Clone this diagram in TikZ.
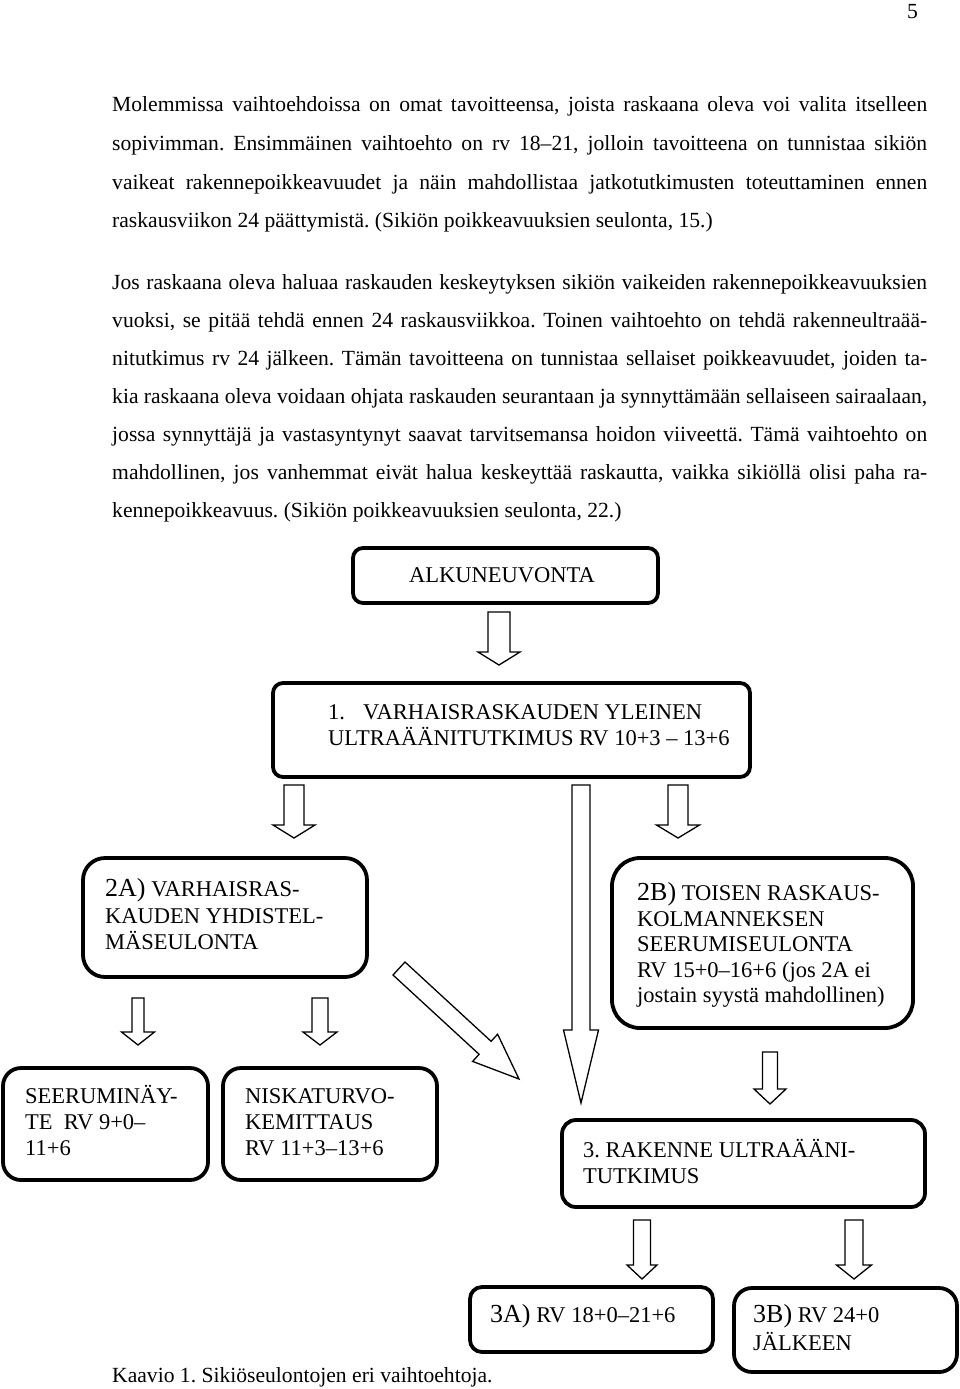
\documentclass[tikz,border=0pt]{standalone}
\usepackage{fontspec}
\setmainfont{Liberation Serif}
\frenchspacing
\newcommand\bodyfont{\fontsize{21.6}{26}\selectfont}
\newcommand\boxfont{\fontsize{22.5}{26}\selectfont}
\newcommand\bigfont{\fontsize{26}{30}\selectfont}
\newcommand\blkdown[7]{\draw[blk] (#2-#5,#3) coordinate (#1) -- (#2+#5,#3) -- (#2+#5,#4) -- (#2+#6,#4) -- (#2,#7) -- (#2-#6,#4) -- (#2-#5,#4) -- cycle;}
\tikzset{
  box/.style={draw, line width=3.8pt, rounded corners=#1, inner sep=0pt},
  blk/.style={draw, line width=1.3pt, fill=white, line join=miter},
  txt/.style={inner sep=0pt, anchor=base west, font=\boxfont},
  body/.style={inner sep=0pt, anchor=base west, font=\bodyfont},
}
\newcommand\jl[1]{\makebox[815pt][s]{#1}}
\begin{document}
\begin{tikzpicture}[x=1pt,y=-1pt]
\useasboundingbox[fill=white] (0,0) rectangle (960,1389);
% page number
\node[body] (pg) at (907,19) {5};
% paragraph 1
\node[body] (p1a) at (112,111) {\jl{Molemmissa vaihtoehdoissa on omat tavoitteensa, joista raskaana oleva voi valita itselleen}};
\node[body] (p1b) at (112,150) {\jl{sopivimman. Ensimmäinen vaihtoehto on rv 18–21, jolloin tavoitteena on tunnistaa sikiön}};
\node[body] (p1c) at (112,189) {\jl{vaikeat rakennepoikkeavuudet ja näin mahdollistaa jatkotutkimusten toteuttaminen ennen}};
\node[body] (p1d) at (112,227) {raskausviikon 24 päättymistä. (Sikiön poikkeavuuksien seulonta, 15.)};
% paragraph 2
\node[body] (p2a) at (112,289) {\jl{Jos raskaana oleva haluaa raskauden keskeytyksen sikiön vaikeiden rakennepoikkeavuuksien}};
\node[body] (p2b) at (112,327) {\jl{vuoksi, se pitää tehdä ennen 24 raskausviikkoa. Toinen vaihtoehto on tehdä rakenneultraää-}};
\node[body] (p2c) at (112,365) {\jl{nitutkimus rv 24 jälkeen. Tämän tavoitteena on tunnistaa sellaiset poikkeavuudet, joiden ta-}};
\node[body] (p2d) at (112,403) {\jl{kia raskaana oleva voidaan ohjata raskauden seurantaan ja synnyttämään sellaiseen sairaalaan,}};
\node[body] (p2e) at (112,441) {\jl{jossa synnyttäjä ja vastasyntynyt saavat tarvitsemansa hoidon viiveettä. Tämä vaihtoehto on}};
\node[body] (p2f) at (112,479) {\jl{mahdollinen, jos vanhemmat eivät halua keskeyttää raskautta, vaikka sikiöllä olisi paha ra-}};
\node[body] (p2g) at (112,517) {kennepoikkeavuus. (Sikiön poikkeavuuksien seulonta, 22.)};

% boxes
\node[box=10pt, minimum width=305pt, minimum height=55pt] (alk) at (505.5,575.5) {};
\node[txt, anchor=base] (alkt) at (502,582) {ALKUNEUVONTA};

\node[box=10pt, minimum width=477pt, minimum height=94pt] (b1) at (511.5,730) {};
\node[txt] (b1n) at (328,719) {1.};
\node[txt] (b1a) at (363,719) {VARHAISRASKAUDEN YLEINEN};
\node[txt] (b1b) at (328,745) {ULTRAÄÄNITUTKIMUS RV 10+3 – 13+6};

\node[box=22pt, minimum width=284pt, minimum height=119pt] (b2a) at (225,917.5) {};
\node[txt] (b2aa) at (105,896) {{\bigfont 2A)} VARHAISRAS-};
\node[txt] (b2ab) at (105,923) {KAUDEN YHDISTEL-};
\node[txt] (b2ac) at (105,949) {MÄSEULONTA};

\node[box=28pt, minimum width=301pt, minimum height=170pt] (b2b) at (762.5,943) {};
\node[txt] (b2ba) at (637,900) {{\bigfont 2B)} TOISEN RASKAUS-};
\node[txt] (b2bb) at (637,926) {KOLMANNEKSEN};
\node[txt] (b2bc) at (637,951) {SEERUMISEULONTA};
\node[txt] (b2bd) at (637,977) {RV 15+0–16+6 (jos 2A ei};
\node[txt] (b2be) at (637,1002) {jostain syystä mahdollinen)};

\node[box=18pt, minimum width=205pt, minimum height=112pt] (bs) at (105.5,1124) {};
\node[txt] (bsa) at (25,1103) {SEERUMINÄY-};
\node[txt] (bsb) at (25,1129) {TE~ RV 9+0–};
\node[txt] (bsc) at (25,1155) {11+6};

\node[box=18pt, minimum width=214pt, minimum height=112pt] (bn) at (330,1124) {};
\node[txt] (bna) at (245,1103) {NISKATURVO-};
\node[txt] (bnb) at (245,1129) {KEMITTAUS};
\node[txt] (bnc) at (245,1155) {RV 11+3–13+6};

\node[box=14pt, minimum width=363pt, minimum height=87pt] (b3) at (743.5,1163.5) {};
\node[txt] (b3a1) at (583,1157) {3. RAKENNE ULTRAÄÄNI-};
\node[txt] (b3a2) at (583,1183) {TUTKIMUS};

\node[box=12pt, minimum width=243pt, minimum height=65pt] (b3a) at (591.5,1319.5) {};
\node[txt] (b3at) at (490,1322) {{\bigfont 3A)} RV 18+0–21+6};

\node[box=18pt, minimum width=223pt, minimum height=84pt] (b3b) at (845.5,1330) {};
\node[txt] (b3ba) at (753,1322) {{\bigfont 3B)} RV 24+0};
\node[txt] (b3bb) at (753,1350) {JÄLKEEN};

% caption
\node[body] (cap) at (112,1382) {Kaavio 1. Sikiöseulontojen eri vaihtoehtoja.};

% block arrows: name, x, top, headstart, shafthalf, headhalf, tip
\blkdown{a0}{499}{612}{652}{11}{21}{665}
\blkdown{a1}{294}{785}{825}{10}{21}{838}
\blkdown{a2}{581}{785}{1030}{9}{17.5}{1103}
\blkdown{a3}{678}{785}{825}{10}{21.5}{838}
\blkdown{a4}{138}{998}{1032}{6}{16.5}{1045}
\blkdown{a5}{320}{998}{1032}{8}{17}{1045}
\blkdown{a7}{770}{1052}{1089}{7.5}{16}{1104}
\blkdown{a8}{642}{1220}{1265}{8.5}{15}{1279}
\blkdown{a9}{854}{1220}{1265}{9}{17.5}{1279}
% diagonal arrow
\draw[blk] (393,975) coordinate (a6) -- (405,962) -- (491.1,1041.3) -- (497.6,1034.2) -- (519,1079) -- (472.6,1061.4) -- (479.1,1054.3) -- cycle;
\end{tikzpicture}
\end{document}
